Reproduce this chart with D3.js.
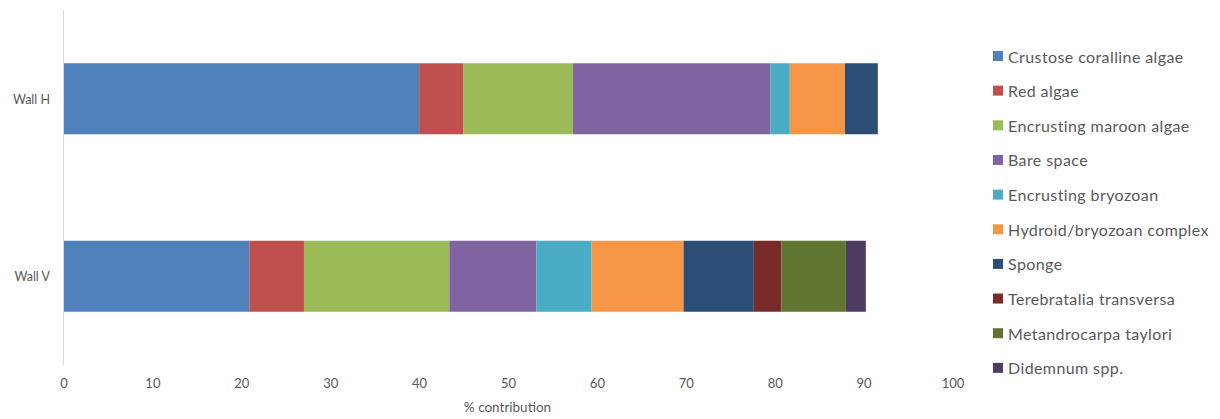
<!DOCTYPE html>
<html><head><meta charset="utf-8">
<script src="https://cdn.jsdelivr.net/npm/d3@7"></script>
<style>body{margin:0;background:#fff;} text{font-family:Lato,"Open Sans",sans-serif;fill:#595959;}</style>
</head><body>
<svg id="chart" width="1220" height="419"></svg>
<script>
const categories = ["Wall H", "Wall V"];
const seriesNames = ["Crustose coralline algae","Red algae","Encrusting maroon algae","Bare space","Encrusting bryozoan","Hydroid/bryozoan complex","Sponge","Terebratalia transversa","Metandrocarpa taylori","Didemnum spp."];
const seriesColors = ["#4f81bd","#c0504d","#9bbb59","#8064a2","#4bacc6","#f79646","#2c4d75","#772c2a","#5f7530","#4d3b62"];
const wallH = [40.0, 5.0, 12.3, 22.2, 2.2, 6.2, 3.7, 0, 0, 0];
const wallV = [20.9, 6.15, 16.35, 9.8, 6.2, 10.35, 7.9, 3.1, 7.25, 2.25];
const xTicks = [0,10,20,30,40,50,60,70,80,90,100];

const rows = [wallH, wallV].map((vals, i) => {
  const o = {cat: categories[i]};
  seriesNames.forEach((s, j) => o[s] = vals[j]);
  return o;
});

const svg = d3.select("#chart");
const x = d3.scaleLinear().domain([0,100]).range([63.5, 952.5]);
const y = d3.scaleBand().domain(categories).range([10,365]).paddingInner(0.6).paddingOuter(0.3);
const color = d3.scaleOrdinal().domain(seriesNames).range(seriesColors);

const stacked = d3.stack().keys(seriesNames)(rows);

svg.append("g").selectAll("g").data(stacked).join("g")
  .attr("fill", d => color(d.key))
  .selectAll("rect").data(d => d).join("rect")
  .attr("x", d => x(d[0]))
  .attr("width", d => Math.max(0, x(d[1]) - x(d[0])))
  .attr("y", d => y(d.data.cat))
  .attr("height", y.bandwidth());

// vertical category axis line
svg.append("line").attr("x1", 63.5).attr("x2", 63.5).attr("y1", 10).attr("y2", 365)
  .attr("stroke", "#d9d9d9").attr("stroke-width", 1);

// category labels
svg.append("g").selectAll("text").data(categories).join("text")
  .attr("x", 50).attr("y", d => y(d) + y.bandwidth()/2 + 5)
  .attr("text-anchor", "end").attr("font-size", 12.5).text(d => d);

// x tick labels
const xAxis = d3.axisBottom(x).tickValues(xTicks).tickSize(0).tickPadding(0);
const gx = svg.append("g").attr("transform", "translate(0,388)").call(xAxis);
gx.select(".domain").remove();
gx.selectAll("text").attr("font-size", 13).attr("fill", "#595959").attr("dy", "0")
  .style("font-family", "Lato, 'Open Sans', sans-serif");

svg.append("text").attr("x", 507.5).attr("y", 411.5).attr("text-anchor", "middle")
  .attr("font-size", 13.5).text("% contribution");

// legend
const lg = svg.append("g").selectAll("g").data(seriesNames).join("g")
  .attr("transform", (d, i) => `translate(993,${57 + i * 34.65})`);
lg.append("rect").attr("x", 0).attr("y", -6).attr("width", 10).attr("height", 10).attr("fill", d => color(d));
lg.append("text").attr("x", 15).attr("y", 5.5).attr("font-size", 16).style("letter-spacing", "0.4px").text(d => d);
</script>
</body></html>
